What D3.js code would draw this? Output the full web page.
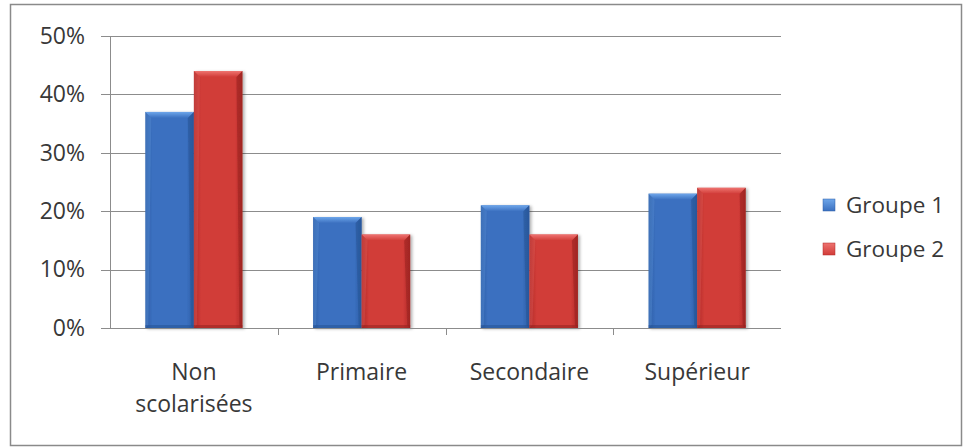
<!DOCTYPE html>
<html>
<head>
<meta charset="utf-8">
<script src="https://cdn.jsdelivr.net/npm/d3@7"></script>
<style>
  html, body { margin: 0; padding: 0; background: #ffffff; }
  svg { display: block; }
  text { font-family: "Open Sans", "Noto Sans", sans-serif; fill: #383838; }
</style>
</head>
<body>
<svg id="chart" width="963" height="447"></svg>
<script>
// Share of each education level, per group
const categories = ["Non scolarisées", "Primaire", "Secondaire", "Supérieur"];
const categoryLines = [["Non", "scolarisées"], ["Primaire"], ["Secondaire"], ["Supérieur"]];
const seriesNames = ["Groupe 1", "Groupe 2"];
const groupe1 = [0.37, 0.19, 0.21, 0.23];
const groupe2 = [0.44, 0.16, 0.16, 0.24];
const yTicks = [0, 0.1, 0.2, 0.3, 0.4, 0.5];

const seriesValues = [groupe1, groupe2];
const palette = {
  "Groupe 1": { main: "#3b70c0", light: "#6ea6ea", dark: "#23508f", edge: "#2d5ea6" },
  "Groupe 2": { main: "#d13c38", light: "#ee7370", dark: "#8f1f1d", edge: "#b02b28" }
};
const fontSize = 23;

const svg = d3.select("#chart");
const plot = { left: 110, right: 781, top: 36, bottom: 328 };

// Outer frame
svg.append("rect")
  .attr("x", 10.5).attr("y", 4.5).attr("width", 951).attr("height", 441)
  .attr("fill", "#ffffff").attr("stroke", "#8a8a8a").attr("stroke-width", 1.5);

const defs = svg.append("defs");
seriesNames.forEach((s, i) => {
  const c = palette[s];
  const g = defs.append("linearGradient").attr("id", "body" + i)
    .attr("x1", "0").attr("x2", "1").attr("y1", "0").attr("y2", "0");
  g.append("stop").attr("offset", "0").attr("stop-color", c.edge);
  g.append("stop").attr("offset", "0.15").attr("stop-color", c.main);
  g.append("stop").attr("offset", "0.85").attr("stop-color", c.main);
  g.append("stop").attr("offset", "1").attr("stop-color", c.edge);
  const t = defs.append("linearGradient").attr("id", "top" + i)
    .attr("x1", "0").attr("x2", "0").attr("y1", "0").attr("y2", "1");
  t.append("stop").attr("offset", "0").attr("stop-color", c.light);
  t.append("stop").attr("offset", "1").attr("stop-color", c.main);
});
const shadow = defs.append("filter").attr("id", "shadow")
  .attr("x", "-20%").attr("y", "-10%").attr("width", "150%").attr("height", "130%");
shadow.append("feDropShadow").attr("dx", 2).attr("dy", 1).attr("stdDeviation", 1.5)
  .attr("flood-color", "#000").attr("flood-opacity", 0.3);

const x0 = d3.scaleBand().domain(categories).range([plot.left, plot.right]).paddingInner(0).paddingOuter(0);
const x1 = d3.scaleBand().domain(seriesNames).range([0, x0.bandwidth()]).paddingInner(0).paddingOuter(0.727);
const y = d3.scaleLinear().domain([0, 0.5]).range([plot.bottom, plot.top]);

// Horizontal gridlines
svg.append("g").selectAll("line").data(yTicks).join("line")
  .attr("x1", plot.left - 9).attr("x2", plot.right)
  .attr("y1", d => Math.round(y(d)) + 0.5).attr("y2", d => Math.round(y(d)) + 0.5)
  .attr("stroke", "#8c8c8c").attr("stroke-width", 1);

// Y axis labels
const yAxis = d3.axisLeft(y).tickValues(yTicks).tickFormat(d3.format(".0%")).tickSize(0).tickPadding(25);
const gy = svg.append("g").attr("transform", `translate(${plot.left},0)`).call(yAxis);
gy.select(".domain").remove();
gy.selectAll("text").attr("font-size", fontSize).attr("fill", "#383838")
  .style("font-family", "'Open Sans', sans-serif");

// Y axis line
svg.append("line").attr("x1", plot.left + 0.5).attr("x2", plot.left + 0.5)
  .attr("y1", plot.top).attr("y2", plot.bottom + 1).attr("stroke", "#8c8c8c");

// X axis ticks on category boundaries
const bounds = categories.slice(1).map(c => x0(c));
svg.append("g").selectAll("line").data(bounds).join("line")
  .attr("x1", d => Math.round(d) + 0.5).attr("x2", d => Math.round(d) + 0.5)
  .attr("y1", plot.bottom).attr("y2", plot.bottom + 7)
  .attr("stroke", "#8c8c8c");

// Bars
const bevel = 6;
const groups = svg.append("g").selectAll("g").data(categories).join("g")
  .attr("transform", c => `translate(${x0(c)},0)`);

groups.each(function(c, ci) {
  const g = d3.select(this);
  seriesNames.forEach((s, si) => {
    const v = seriesValues[si][ci];
    const bx = x1(s), bw = x1.bandwidth();
    const by = y(v), bh = y(0) - y(v);
    const col = palette[s];
    const bar = g.append("g").attr("filter", "url(#shadow)");
    bar.append("rect").attr("x", bx).attr("y", by).attr("width", bw).attr("height", bh)
      .attr("fill", `url(#body${si})`);
    // top bevel
    bar.append("path")
      .attr("d", `M${bx},${by}L${bx + bw},${by}L${bx + bw - bevel},${by + bevel}L${bx + bevel},${by + bevel}Z`)
      .attr("fill", `url(#top${si})`);
    // right bevel
    bar.append("path")
      .attr("d", `M${bx + bw},${by}L${bx + bw},${by + bh}L${bx + bw - 3},${by + bh - 3}L${bx + bw - bevel},${by + bevel}Z`)
      .attr("fill", col.dark).attr("opacity", 0.45);
    // left bevel
    bar.append("path")
      .attr("d", `M${bx},${by}L${bx + bevel},${by + bevel}L${bx + 3},${by + bh - 3}L${bx},${by + bh}Z`)
      .attr("fill", col.light).attr("opacity", 0.25);
    // bottom edge
    bar.append("rect").attr("x", bx).attr("y", by + bh - 3).attr("width", bw).attr("height", 3)
      .attr("fill", col.dark).attr("opacity", 0.5);
  });
});

// X axis baseline
svg.append("line").attr("x1", plot.left).attr("x2", plot.right)
  .attr("y1", plot.bottom + 0.5).attr("y2", plot.bottom + 0.5).attr("stroke", "#8c8c8c");

// Category labels
const labels = svg.append("g").selectAll("text").data(categories).join("text")
  .attr("x", c => x0(c) + x0.bandwidth() / 2)
  .attr("y", 380)
  .attr("text-anchor", "middle")
  .attr("font-size", fontSize);
labels.each(function(c, i) {
  const t = d3.select(this);
  categoryLines[i].forEach((line, li) => {
    t.append("tspan").attr("x", x0(c) + x0.bandwidth() / 2).attr("dy", li === 0 ? 0 : 32).text(line);
  });
});

// Legend
const legend = svg.append("g").selectAll("g").data(seriesNames).join("g")
  .attr("transform", (d, i) => `translate(823,${205 + i * 44})`);
legend.append("rect").attr("x", 0).attr("y", -6).attr("width", 12).attr("height", 12)
  .attr("fill", (d, i) => `url(#top${i})`)
  .attr("stroke", d => palette[d].edge).attr("stroke-width", 0.5);
legend.append("text").attr("x", 23).attr("y", 0).attr("dy", "0.35em")
  .attr("font-size", fontSize - 0.5).text(d => d);
</script>
</body>
</html>
